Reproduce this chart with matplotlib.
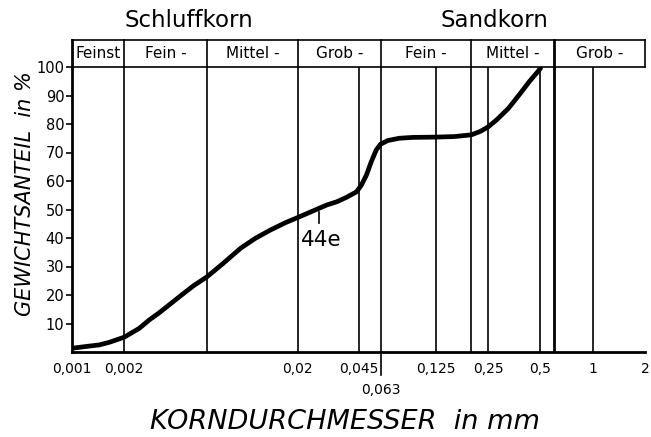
import matplotlib
matplotlib.use("Agg")
from matplotlib import pyplot as plt

# grain size distribution curve 44e
diam_mm = [0.001, 0.00119, 0.00144, 0.00164, 0.002, 0.00244, 0.00278, 0.00317,
           0.00428, 0.0050, 0.006, 0.00743, 0.0094, 0.0114, 0.0139, 0.0170,
           0.02, 0.0294, 0.0335, 0.0382, 0.0436, 0.0465, 0.0497, 0.0530, 0.0566,
           0.0599, 0.0660, 0.0769, 0.0917, 0.125, 0.16, 0.2, 0.225, 0.25, 0.28,
           0.327, 0.38, 0.43, 0.5]
passing = [1.3, 1.9, 2.5, 3.4, 5.2, 8.3, 11.2, 13.7,
           20.0, 23.2, 26.4, 31.1, 36.5, 39.9, 42.8, 45.4,
           47.2, 51.6, 52.7, 54.3, 56.2, 58.6, 62.1, 66.8, 70.9,
           72.9, 74.2, 75.0, 75.3, 75.4, 75.6, 76.2, 77.4, 79.0, 81.5,
           85.5, 90.5, 94.8, 99.5]

x_ticks = [0.001, 0.002, 0.02, 0.045, 0.125, 0.25, 0.5, 1, 2]
x_ticklabels = ["0,001", "0,002", "0,02", "0,045", "0,125", "0,25", "0,5", "1", "2"]
y_ticks = [10, 20, 30, 40, 50, 60, 70, 80, 90, 100]

grid_lines = [0.002, 0.006, 0.02, 0.045, 0.06, 0.125, 0.2, 0.25, 0.5, 0.6, 1]
class_bounds = [0.001, 0.002, 0.006, 0.02, 0.06, 0.2, 0.6, 2]
class_names = ["Feinst", "Fein -", "Mittel -", "Grob -", "Fein -", "Mittel -", "Grob -"]

plt.rcParams['font.family'] = ['DejaVu Sans']

fig = plt.figure(figsize=(6.51, 4.37), dpi=100)
ax = fig.add_axes([72 / 651, 85 / 437, (645 - 72) / 651, 285 / 437])
ax.set_xscale('log')
ax.set_xlim(0.001, 2)
ax.set_ylim(0, 100)

lw = 1.2
for gx in grid_lines:
    ax.plot([gx, gx], [0, 100], color='k', lw=lw if gx != 0.6 else 2.0)
# 0,063 mark goes below the axis
ax.plot([0.06, 0.06], [-8, 0], color='k', lw=lw, clip_on=False)

# header band with soil classes
top = 109.5
ax.plot([0.001, 2], [top, top], color='k', lw=lw, clip_on=False)
ax.plot([0.001, 2], [100, 100], color='k', lw=lw, clip_on=False)
ax.plot([0.001, 0.001], [100, top], color='k', lw=2.0, clip_on=False)
for b in class_bounds[1:]:
    ax.plot([b, b], [100, top], color='k', lw=lw if b != 0.6 else 2.0, clip_on=False)
for i, name in enumerate(class_names):
    xc = (class_bounds[i] * class_bounds[i + 1]) ** 0.5
    ax.text(xc, 104.8, name, ha='center', va='center', fontsize=11, clip_on=False)

ax.text(0.0047, 116.3, "Schluffkorn", ha='center', va='center', fontsize=16.5)
ax.text(0.272, 116.3, "Sandkorn", ha='center', va='center', fontsize=16.5)

ax.plot(diam_mm, passing, color='k', lw=3.4, solid_capstyle='round', solid_joinstyle='round')

# sample label
ax.plot([0.0266, 0.0266], [45.3, 49.1], color='k', lw=1.2)
ax.text(0.0272, 39.3, "44e", ha='center', va='center', fontsize=15.5)

ax.text(0.06, -13.5, "0,063", ha='center', va='center', fontsize=10, clip_on=False)

for s in ['top', 'right']:
    ax.spines[s].set_visible(False)
ax.spines['left'].set_linewidth(2.0)
ax.spines['bottom'].set_linewidth(2.0)

ax.set_xticks(x_ticks)
ax.set_xticklabels(x_ticklabels)
ax.xaxis.set_minor_locator(matplotlib.ticker.NullLocator())
ax.tick_params(axis='x', length=0, pad=7, labelsize=10)
ax.set_yticks(y_ticks)
ax.set_yticklabels([str(v) for v in y_ticks])
ax.tick_params(axis='y', length=4.5, width=1.2, pad=1, labelsize=10.5)

fig.text(25 / 651, (437 - 194) / 437, "GEWICHTSANTEIL  in %", rotation=90,
         ha='center', va='center', fontsize=15, style='italic')
fig.text(345 / 651, (437 - 422) / 437, "KORNDURCHMESSER  in mm",
         ha='center', va='center', fontsize=19.5, style='italic')

fig.savefig("out.png", dpi=100)
